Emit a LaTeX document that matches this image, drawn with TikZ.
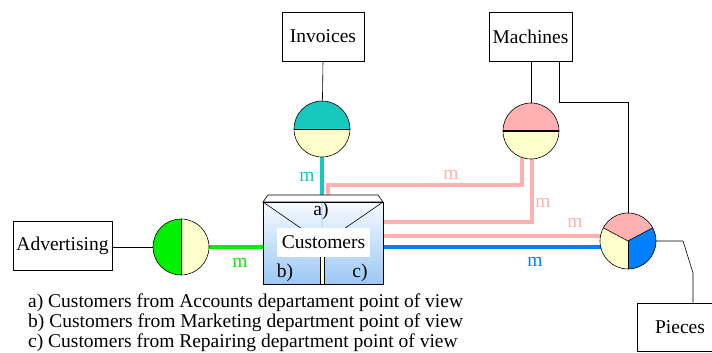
\documentclass[tikz,border=0pt]{standalone}
\usepackage{fontspec}
\setmainfont{Liberation Serif}
\newfontfamily\dfdfont{Liberation Serif}
\usetikzlibrary{calc}
\definecolor{tealflow}{RGB}{22,200,190}
\definecolor{pinkflow}{RGB}{255,176,176}
\definecolor{blueflow}{RGB}{0,128,255}
\definecolor{greenflow}{RGB}{0,240,0}
\definecolor{paleyellow}{RGB}{255,255,204}
\definecolor{boxtop}{RGB}{246,250,255}
\definecolor{boxbottom}{RGB}{155,200,245}
\definecolor{boxfaint}{RGB}{200,225,255}

\begin{document}
\begin{tikzpicture}[x=1pt,y=1pt,font=\dfdfont\fontsize{19.5}{20}\selectfont,
  box/.style={draw=black,line width=0.6pt,fill=white,minimum height=49pt,inner sep=1pt},
  wire/.style={line width=0.6pt},
  flow/.style={line width=4pt}]
\useasboundingbox (0,0) rectangle (712,353);
\clip (0,0) rectangle (712,353);
% external entities
\node[box,minimum width=82pt] (Inv) at (323,316.5) {Invoices};
\node[box,minimum width=83pt] (Mac) at (530.5,316.5) {Machines};
\node[box,minimum width=99pt] (Adv) at (62.5,107) {Advertising};
\node[box,minimum width=86pt,minimum height=48pt] (Pie) at (680,26) {Pieces};
% access points
\coordinate[] (Ci) at (322,224);
\coordinate[] (Cm) at (531,222);
\coordinate[] (Ca) at (181,106);
\coordinate[] (Cp) at (628,112);
% customers store
\coordinate[] (CustNW) at (263,151);
\coordinate[] (CustNE) at (383,151);
\coordinate[] (CustSW) at (263,69);
\coordinate[] (CustSE) at (383,69);
% flow corners
\coordinate[] (TopIn) at (322,158);
\coordinate[] (PaA) at (522,222);
\coordinate[] (PaB) at (522,168);
\coordinate[] (PaC) at (328,168);
\coordinate[] (PaD) at (328,158);
\coordinate[] (PbA) at (532,222);
\coordinate[] (PbB) at (532,131);
\coordinate[] (Mw) at (628,251);
\coordinate[] (Pw1) at (683,112);
\coordinate[] (Pw2) at (693,80);
% thin wires
\draw[wire] (Inv.south) -- (Ci);
\draw[wire] (Mac.south -| Cm) -- (Cm);
\draw[wire] ([xshift=28.5pt]Mac.south) |- (Mw) -- (Cp);
\draw[wire] (Adv.east |- Ca) -- (Ca);
\draw[wire] (Cp) -- (Pw1) -- (Pw2) -- (Pw2 |- Pie.north);
% data flows
\draw[flow,tealflow] (Ci) -- (TopIn);
\draw[flow,pinkflow] (PaA) -- (PaB) -- (PaC) -- (PaD);
\draw[flow,pinkflow] (PbA) -- (PbB) -- (PbB -| CustNE);
\draw[flow,pinkflow] (Cp |- 0,117) -- (CustNE |- 0,117);
\draw[flow,blueflow] (Cp |- 0,106) -- (CustNE |- 0,106);
\draw[flow,greenflow] (Ca) -- (CustSW |- Ca);
% access point discs
\fill[tealflow] (Ci) ++(28,0) arc (0:180:28) -- cycle;
\fill[paleyellow] (Ci) ++(-28,0) arc (180:360:28) -- cycle;
\draw[wire] (Ci) circle (28);
\draw[wire] (Ci) ++(-28,0) -- ++(56,0);
\fill[pinkflow] (Cm) ++(28,0) arc (0:180:28) -- cycle;
\fill[paleyellow] (Cm) ++(-28,0) arc (180:360:28) -- cycle;
\draw[wire] (Cm) circle (28);
\draw[line width=1.6pt] (Cm) ++(-28,0) -- ++(56,0);
\fill[greenflow] (Ca) ++(0,28) arc (90:270:28) -- cycle;
\fill[paleyellow] (Ca) ++(0,-28) arc (-90:90:28) -- cycle;
\draw[wire] (Ca) circle (28);
\draw[wire] (Ca) ++(0,28) -- ++(0,-56);
\fill[pinkflow] (Cp) -- ++(28:28) arc (28:152:28) -- cycle;
\fill[paleyellow] (Cp) -- ++(152:28) arc (152:270:28) -- cycle;
\fill[blueflow] (Cp) -- ++(270:28) arc (270:388:28) -- cycle;
\draw[wire] (Cp) circle (28);
\foreach \a in {28,152,270}
	\draw[wire] (Cp) -- ++(\a:28);
% customers store box
\shade[top color=boxtop,bottom color=boxbottom] (CustSW) rectangle (CustNE);
\draw[wire,fill=white] (CustNW) -- (268,158) -- (378,158) -- (CustNE) -- cycle;
\draw[wire] (CustSW) rectangle (CustNE);
\draw[wire] (CustNW) -- (305,122);
\draw[wire] (CustNE) -- (341,122);
\draw[boxfaint,line width=1.5pt] (322,150) -- (322,125);
\fill[paleyellow] (320,69) rectangle (324,96);
\draw[wire] (320,69) -- (320,96);
\draw[wire] (324,69) -- (324,96);
\node[fill=white,minimum width=93pt,minimum height=29pt,inner sep=0pt] (Cust) at (323.5,110.5) {Customers};
\node[] (ViewA) at (321,142) {a)};
\node[] (ViewB) at (285,80) {b)};
\node[] (ViewC) at (360,80) {c)};
% cardinalities
\node[text=tealflow] (mI) at (307,176) {m};
\node[text=pinkflow] (mM1) at (451,178) {m};
\node[text=pinkflow] (mM2) at (543,150) {m};
\node[text=pinkflow] (mP1) at (575,130) {m};
\node[text=blueflow] (mP2) at (535,91) {m};
\node[text=greenflow] (mA) at (240,90) {m};
% legend
\node[anchor=base west,inner sep=0pt] (LegA) at (28,45) {a) Customers from Accounts departament point of view};
\node[anchor=base west,inner sep=0pt] (LegB) at (28,25) {b) Customers from Marketing department point of view};
\node[anchor=base west,inner sep=0pt] (LegC) at (28,5) {c) Customers from Repairing department point of view};
\end{tikzpicture}
\end{document}
